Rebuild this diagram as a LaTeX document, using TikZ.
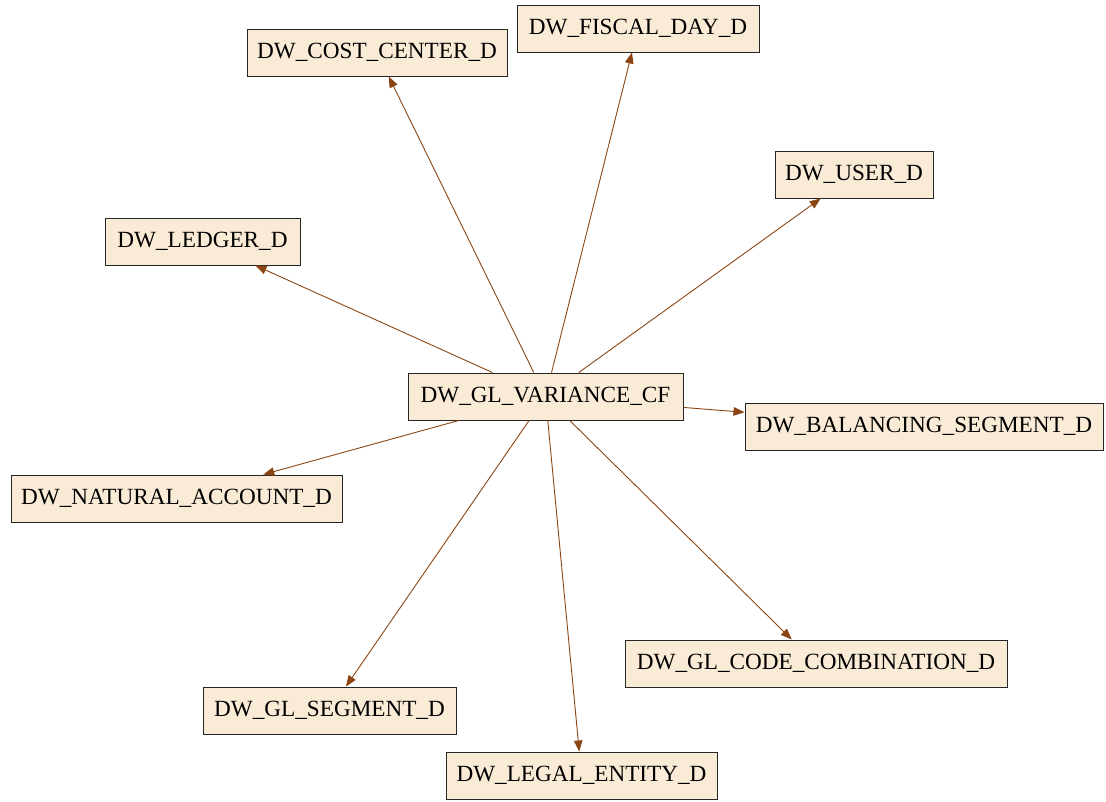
\documentclass[tikz,border=0pt]{standalone}
\usepackage{fontspec}
\setmainfont{Liberation Serif}
\usetikzlibrary{arrows.meta}
\definecolor{boxfill}{HTML}{FAEBD7}
\definecolor{edgecol}{HTML}{8B4513}
\begin{document}
\begin{tikzpicture}[x=1pt,y=-1pt,
  tbl/.style={draw=black!85,fill=boxfill,line width=1pt,minimum height=47pt,minimum width=#1,inner xsep=8pt,inner ysep=0pt,font=\fontsize{23.2}{27}\selectfont,anchor=center},
  rel/.style={draw=edgecol,line width=0.9pt,-{Triangle[length=11pt,width=8.5pt]}}]
\useasboundingbox (0,0) rectangle (1106,801);
\node[tbl=275pt] (cf) at (545.5,396.5) {DW\_GL\_VARIANCE\_CF};
\node[tbl=260pt] (cc) at (377,52.5) {DW\_COST\_CENTER\_D};
\node[tbl=242pt] (fd) at (638,28.5) {DW\_FISCAL\_DAY\_D};
\node[tbl=158pt] (us) at (854,174.5) {DW\_USER\_D};
\node[tbl=195pt] (le) at (202.5,241.5) {DW\_LEDGER\_D};
\node[tbl=358pt] (bs) at (924,426.5) {DW\_BALANCING\_SEGMENT\_D};
\node[tbl=331pt] (na) at (176.5,498.5) {DW\_NATURAL\_ACCOUNT\_D};
\node[tbl=382pt] (gc) at (816,663.5) {DW\_GL\_CODE\_COMBINATION\_D};
\node[tbl=253pt] (gs) at (329.5,710.5) {DW\_GL\_SEGMENT\_D};
\node[tbl=271pt] (en) at (581.5,775.5) {DW\_LEGAL\_ENTITY\_D};
\foreach \t in {cc,fd,us,le,bs,na,gc,gs,en}
  \draw[rel] (cf) -- (\t);
\end{tikzpicture}
\end{document}
